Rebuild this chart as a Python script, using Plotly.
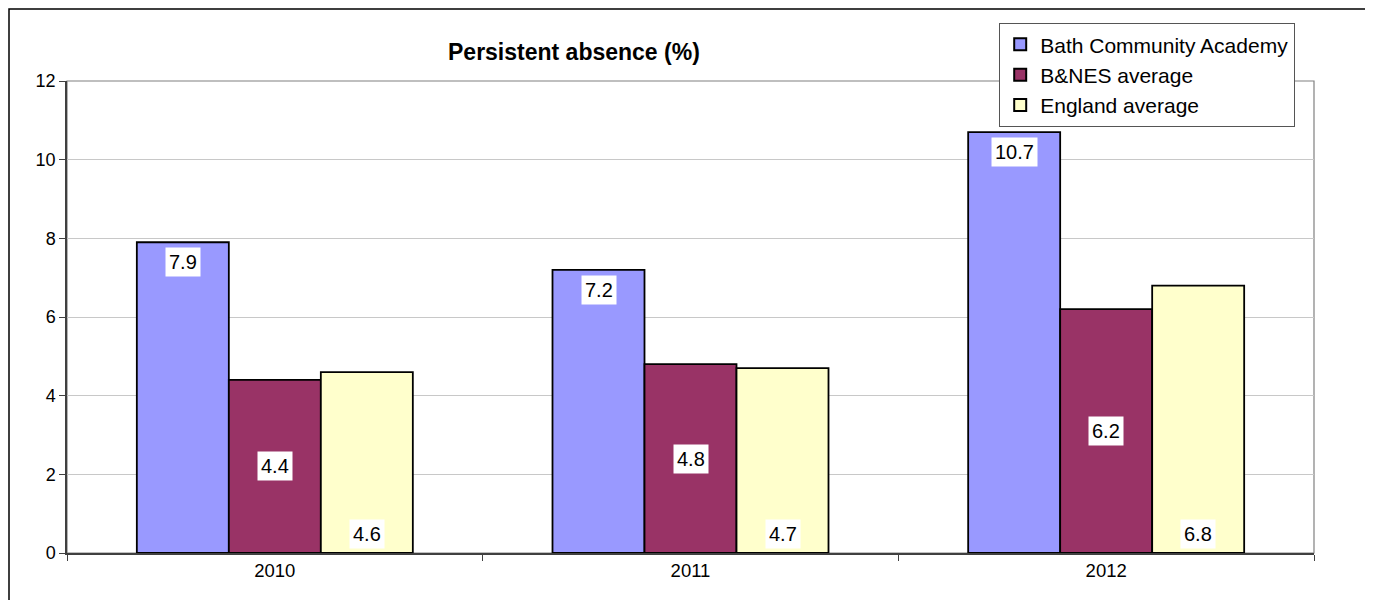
import plotly.graph_objects as go

years = ["2010", "2011", "2012"]
bath = [7.9, 7.2, 10.7]
bnes = [4.4, 4.8, 6.2]
england = [4.6, 4.7, 6.8]
series_names = ["Bath Community Academy", "B&NES average", "England average"]
colors = ["#9999FF", "#993366", "#FFFFCC"]
title = "Persistent absence (%)"
yticks = [0, 2, 4, 6, 8, 10, 12]

FONT = "Liberation Sans, Arial, sans-serif"
bargap = 0.336

# page coords -> paper coords (plot area 67..1314 x, 81..553 y; body margin 8px)
def px(x):
    return (x - 67) / 1247

def py(y):
    return (553 - y) / 472

fig = go.Figure()
all_series = [bath, bnes, england]
for name, vals, col in zip(series_names, all_series, colors):
    fig.add_trace(go.Bar(
        x=years, y=vals, name=name,
        marker=dict(color=col, line=dict(color="#000000", width=1.8)),
    ))

# data labels with white boxes
w = (1 - bargap) / 3
modes = ["end", "middle", "base"]
annotations = []
for k, (vals, mode) in enumerate(zip(all_series, modes)):
    for i, v in enumerate(vals):
        xpos = i + (k - 1) * w
        if mode == "end":
            yv, ys = v, -20
        elif mode == "middle":
            yv, ys = v / 2, 0
        else:
            yv, ys = 0, 19
        annotations.append(dict(
            x=xpos, y=yv, xref="x", yref="y", yshift=ys,
            text=f"{v:.1f}", showarrow=False,
            font=dict(family=FONT, size=20, color="#000000"),
            bgcolor="#FFFFFF", borderpad=3,
        ))

annotations.append(dict(
    x=px(574), y=py(52), xref="paper", yref="paper", yanchor="middle",
    text="<b>" + title + "</b>", showarrow=False,
    font=dict(family=FONT, size=23, color="#000000"),
))

shapes = [
    # plot area border
    dict(type="rect", xref="paper", yref="paper", x0=0, x1=1, y0=0, y1=1,
         line=dict(color="#808080", width=1.2), layer="below"),
    # outer chart frame
    dict(type="rect", xref="paper", yref="paper",
         x0=px(9), x1=px(1366),
         y0=py(620), y1=py(9),
         line=dict(color="#000000", width=1.5)),
]

fig.update_layout(
    width=1365, height=592,
    margin=dict(l=59, r=59, t=73, b=47),
    paper_bgcolor="#FFFFFF", plot_bgcolor="#FFFFFF",
    barmode="group", bargap=bargap, bargroupgap=0,
    font=dict(family=FONT, size=18, color="#000000"),
    showlegend=True,
    legend=dict(
        x=px(999), y=py(23), xanchor="left", yanchor="top",
        bgcolor="#FFFFFF", bordercolor="#555555", borderwidth=1.2,
        font=dict(family=FONT, size=21, color="#000000"),
        tracegroupgap=0, itemsizing="constant",
    ),
    annotations=annotations,
    shapes=shapes,
)

fig.update_xaxes(
    type="category", showline=True, linecolor="#404040", linewidth=1.5,
    ticks="outside", tickson="boundaries", ticklen=6, tickcolor="#404040",
    showgrid=False, tickfont=dict(family=FONT, size=18.5, color="#000000"),
)
fig.update_yaxes(
    range=[0, 12], tickvals=yticks, showline=True, linecolor="#404040", linewidth=1.5,
    ticks="outside", ticklen=6, tickcolor="#404040",
    showgrid=True, gridcolor="#C8C8C8", gridwidth=1, zeroline=False,
    tickfont=dict(family=FONT, size=18, color="#000000"),
)

fig.write_html("out.html")
